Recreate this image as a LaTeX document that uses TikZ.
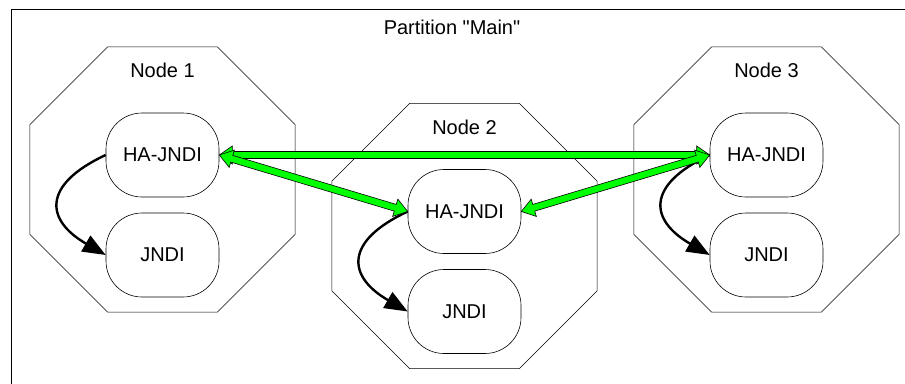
\documentclass[tikz,border=0pt]{standalone}
\usepackage{fontspec}
\setmainfont{Liberation Sans}
\usetikzlibrary{calc,arrows.meta,shapes.geometric}

\tikzset{
  octa/.style={draw,line width=0.6pt,regular polygon,regular polygon sides=8,minimum size=287pt,inner sep=0pt},
  jbox/.style={draw,line width=0.6pt,rounded corners=36pt,minimum width=113pt,minimum height=84pt,inner sep=0pt},
  lookup/.style={line width=2.4pt,-{Triangle[length=23pt,width=18pt]}},
  garrow/.style={draw=black,fill=green,line width=0.6pt,line join=miter}
}

% fat green arrow with a head on both ends
\newcommand{\dblarrow}[2]{%
  \path[garrow] (#1)
    -- ($(#1)!13pt!(#2)!9pt!90:(#2)$)
    -- ($(#1)!13pt!(#2)!3.5pt!90:(#2)$)
    -- ($(#2)!13pt!(#1)!3.5pt!90:(#2)$)
    -- ($(#2)!13pt!(#1)!9pt!90:(#2)$)
    -- (#2)
    -- ($(#2)!13pt!(#1)!9pt!-90:(#2)$)
    -- ($(#2)!13pt!(#1)!3.5pt!-90:(#2)$)
    -- ($(#1)!13pt!(#2)!3.5pt!-90:(#2)$)
    -- ($(#1)!13pt!(#2)!9pt!-90:(#2)$)
    -- cycle;}

\begin{document}
\begin{tikzpicture}[x=1pt,y=-1pt,font=\fontsize{20}{24}\selectfont]

  \useasboundingbox (0,0) rectangle (905,383);
  \draw[line width=0.9pt] (11,9) rectangle (920,400);
  \node (part) at (452,27) {Partition \textquotedbl Main\textquotedbl};

  \foreach \i/\x/\y in {1/162.5/179.5, 2/464.5/236, 3/766.5/179.5}{
    \node[octa] (n\i) at (\x,\y) {};
    \node (lbl\i) at (\x,\y-109) {Node \i};
    \node[jbox] (ha\i) at (\x,\y-24.5) {HA-JNDI};
    \node[jbox] (jndi\i) at (\x,\y+75.5) {JNDI};
    \draw[lookup] (ha\i.west) to[out=205,in=150,looseness=1.8] (jndi\i.west);
  }

  \dblarrow{ha1.east}{ha3.west}
  \dblarrow{ha1.east}{ha2.west}
  \dblarrow{ha2.east}{ha3.west}

\end{tikzpicture}
\end{document}
